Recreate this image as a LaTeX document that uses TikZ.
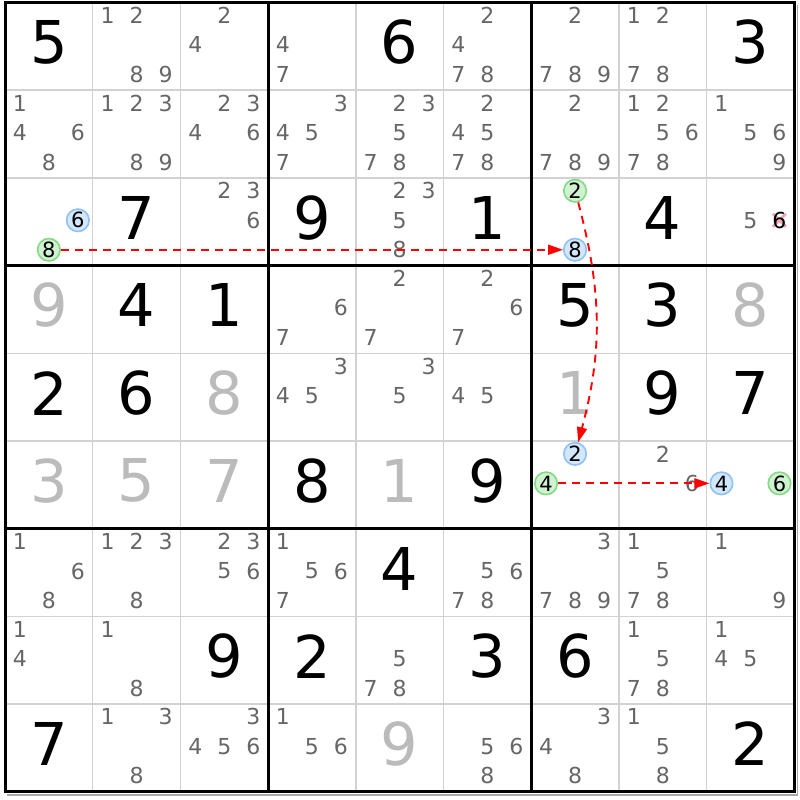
\documentclass[tikz,border=0pt]{standalone}
\usepackage{fontspec}
\setmainfont{DejaVu Sans}
\usetikzlibrary{arrows.meta}
\definecolor{candgray}{HTML}{666666}
\definecolor{solvedgray}{HTML}{BBBBBB}
\definecolor{gridgray}{HTML}{D2D2D2}
\definecolor{shadowgray}{HTML}{A8A8A8}
\definecolor{bluefill}{HTML}{D2E7FB}
\definecolor{blueline}{HTML}{8EC2F4}
\definecolor{greenfill}{HTML}{D0F2D0}
\definecolor{greenline}{HTML}{84D984}
\definecolor{crosspink}{HTML}{F4A6AE}
\newcommand{\cellw}{87.7}

\begin{document}
\begin{tikzpicture}[x=1pt,y=-1pt,
         candidate/.style = {inner sep=0pt, text=candgray,
         font=\fontsize{22}{22}\selectfont},
         given/.style = {inner sep=0pt, font=\fontsize{59}{59}\selectfont},
         solved/.style = {given, text=solvedgray},
         bluecand/.style = {circle, inner sep=0pt, minimum size=22.5pt,
         line width=1.6pt, draw=blueline, fill=bluefill,
         font=\fontsize{21}{21}\selectfont},
         greencand/.style = {bluecand, draw=greenline, fill=greenfill},
         link/.style = {red, line width=1.9pt, dash pattern=on 8pt off 6pt,
         -{Triangle[length=15pt,width=10pt]}},
         cross/.style = {crosspink, line width=2.8pt}
]
   \useasboundingbox (0,0) rectangle (800,800);
   \fill[white] (0,0) rectangle (800,800);

   % grid
   \draw[shadowgray, line width=1.6pt] (7,{2.5+9*\cellw+3}) -- ({5+9*\cellw+3},{2.5+9*\cellw+3})
      -- ({5+9*\cellw+3},5);
   \foreach \i in {1,2,4,5,7,8} {
      \draw[gridgray, line width=1.5pt] ({5+\i*\cellw},2.5) -- ({5+\i*\cellw},{2.5+9*\cellw});
      \draw[gridgray, line width=1.5pt] (5,{2.5+\i*\cellw}) -- ({5+9*\cellw},{2.5+\i*\cellw});
   }
   \foreach \i in {0,3,6,9} {
      \draw[line width=3pt] ({5+\i*\cellw},1) -- ({5+\i*\cellw},{4+9*\cellw});
      \draw[line width=3pt] (3.5,{2.5+\i*\cellw}) -- ({6.5+9*\cellw},{2.5+\i*\cellw});
   }

   % given and solved digits
   \foreach \r/\c/\d in {1/1/5,1/5/6,1/9/3,3/2/7,3/4/9,3/6/1,3/8/4,4/2/4,4/3/1,
      4/7/5,4/8/3,5/1/2,5/2/6,5/8/9,5/9/7,6/4/8,6/6/9,7/5/4,8/3/9,8/4/2,
      8/6/3,8/7/6,9/1/7,9/9/2}
      \node[given] (g\r\c) at ({5+(\c-0.5)*\cellw},{2.5+(\r-0.5)*\cellw-4}) {\d};
   \foreach \r/\c/\d in {4/1/9,4/9/8,5/3/8,5/7/1,6/1/3,6/2/5,6/3/7,6/5/1,9/5/9}
      \node[solved] (s\r\c) at ({5+(\c-0.5)*\cellw},{2.5+(\r-0.5)*\cellw-4}) {\d};

   % candidates
   \foreach \r/\c/\ds in {1/2/{1,2,8,9},1/3/{2,4},1/4/{4,7},1/6/{2,4,7,8},
      1/7/{2,7,8,9},1/8/{1,2,7,8},2/1/{1,4,6,8},2/2/{1,2,3,8,9},2/3/{2,3,4,6},
      2/4/{3,4,5,7},2/5/{2,3,5,7,8},2/6/{2,4,5,7,8},2/7/{2,7,8,9},
      2/8/{1,2,5,6,7,8},2/9/{1,5,6,9},3/3/{2,3,6},3/5/{2,3,5,8},3/9/{5},
      4/4/{6,7},4/5/{2,7},4/6/{2,6,7},5/4/{3,4,5},5/5/{3,5},5/6/{4,5},
      6/8/{2,6},7/1/{1,6,8},7/2/{1,2,3,8},7/3/{2,3,5,6},7/4/{1,5,6,7},
      7/6/{5,6,7,8},7/7/{3,7,8,9},7/8/{1,5,7,8},7/9/{1,9},8/1/{1,4},8/2/{1,8},
      8/5/{5,7,8},8/8/{1,5,7,8},8/9/{1,4,5},9/2/{1,3,8},9/3/{3,4,5,6},
      9/4/{1,5,6},9/6/{5,6,8},9/7/{3,4,8},9/8/{1,5,8}}
      \foreach \d in \ds
         \node[candidate] (c\r\c\d) at ({5+(\c-0.5)*\cellw+(mod(\d-1,3)-1)*29},
            {1+(\r-0.5)*\cellw+(floor((\d-1)/3)-1)*29.5}) {\d};

   % eliminated candidate
   \coordinate (x6) at ({5+8.5*\cellw+29},{1+2.5*\cellw});
   \draw[cross] ([shift={(-6.5,-6.5)}]x6) -- ([shift={(6.5,6.5)}]x6);
   \draw[cross] ([shift={(-6.5,6.5)}]x6) -- ([shift={(6.5,-6.5)}]x6);
   \node[candidate, text=black] (c396) at (x6) {6};

   % chain
   \foreach \r/\c/\d/\s/\n in {3/1/6/bluecand/b6,3/1/8/greencand/g8,
      3/7/2/greencand/g2,3/7/8/bluecand/b8,6/7/2/bluecand/b2,
      6/7/4/greencand/g4,6/9/4/bluecand/b4,6/9/6/greencand/g6}
      \node[\s] (\n) at ({5+(\c-0.5)*\cellw+(mod(\d-1,3)-1)*29},
         {1+(\r-0.5)*\cellw+(floor((\d-1)/3)-1)*29.5}) {\d};

   \draw[link] (g8) -- (b8);
   \draw[link] (g2) to[bend left=15] (b2);
   \draw[link] (g4) -- (b4);
\end{tikzpicture}
\end{document}
